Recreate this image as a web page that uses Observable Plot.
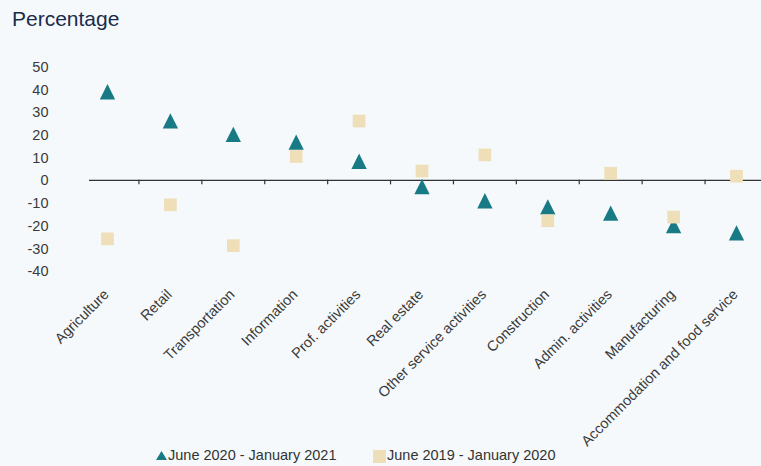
<!DOCTYPE html>
<html>
<head>
<meta charset="utf-8">
<script src="https://cdn.jsdelivr.net/npm/d3@7"></script>
<script src="https://cdn.jsdelivr.net/npm/@observablehq/plot@0.6"></script>
<style>
  html, body { margin: 0; padding: 0; background: #f5f9fb; }
  body { width: 761px; height: 466px; overflow: hidden; font-family: "Liberation Sans", Arial, sans-serif; }
  #title { box-sizing: border-box; height: 40px; padding: 8px 0 0 12px; font-size: 21px; line-height: 21px; color: #1b2b4b; }
  #chart svg { display: block; overflow: visible; }
  #legend { height: 21px; line-height: 21px; font-size: 14.5px; color: #333; position: relative; }
  #legend .item { position: absolute; top: 0; white-space: nowrap; }
  #legend svg { vertical-align: middle; position: relative; margin-right: 1px; }
</style>
</head>
<body>
<div id="title">Percentage</div>
<div id="chart"></div>
<div id="legend"></div>
<script>
const categories = ["Agriculture", "Retail", "Transportation", "Information", "Prof. activities", "Real estate", "Other service activities", "Construction", "Admin. activities", "Manufacturing", "Accommodation and food service"];
const recentValues = [39, 26.2, 20.2, 16.8, 8.4, -2.8, -9.0, -11.7, -14.5, -20.0, -23.2];
const priorValues = [-25.8, -10.8, -28.8, 10.5, 26.1, 4.1, 11.2, -17.8, 3.1, -16.2, 1.8];
const yTicks = [50, 40, 30, 20, 10, 0, -10, -20, -30, -40];
const seriesNames = ["June 2020 - January 2021", "June 2019 - January 2020"];

const recent = categories.map((c, i) => ({category: c, value: recentValues[i]}));
const prior = categories.map((c, i) => ({category: c, value: priorValues[i]}));

const teal = "#187a84";
const sand = "#efdfb9";
const ink = "#3a3a3a";

const triangle = {
  draw(context, size) {
    const s = Math.sqrt(size);
    context.moveTo(0, -s / 2);
    context.lineTo(s / 2, s / 2);
    context.lineTo(-s / 2, s / 2);
    context.closePath();
  }
};

const width = 761, height = 405;
const marginLeft = 107, marginRight = 25;
const step = (width - marginLeft - marginRight) / (categories.length - 1);

const chart = Plot.plot({
  width, height,
  marginLeft, marginRight,
  marginTop: 26.3,
  marginBottom: height - 230.6,
  style: {background: "transparent", fontFamily: "'Liberation Sans', Arial, sans-serif", fontSize: "14.5px", color: ink},
  x: {type: "point", domain: categories, padding: 0, round: false, axis: null},
  y: {domain: [-40, 50], axis: null},
  marks: [
    Plot.axisY({ticks: yTicks, tickSize: 0, tickPadding: 59, tickFormat: d => String(d), label: null, fill: ink, fontSize: 14.5, dy: 0.5}),
    Plot.ruleY([0], {stroke: "#333", strokeWidth: 1.2, insetLeft: -18, insetRight: -25}),
    Plot.ruleX(categories.slice(1), {x: d => d, y1: 0, y2: -2, dx: -step / 2, stroke: "#333", strokeWidth: 1.2}),
    Plot.text(categories, {x: d => d, text: d => d, frameAnchor: "bottom", rotate: -45, textAnchor: "end", lineAnchor: "middle", dx: -1, dy: 21, fill: ink, fontSize: 14.5}),
    Plot.dot(recent, {x: "category", y: "value", symbol: triangle, r: 8.63, fill: teal, stroke: "none"}),
    Plot.dot(prior, {x: "category", y: "value", symbol: "square", r: 7.17, fill: sand, stroke: "none"})
  ]
});
document.getElementById("chart").appendChild(chart);

const legend = document.getElementById("legend");
const items = [
  {name: seriesNames[0], left: 156, icon: `<svg width="11" height="9" style="top:-1px"><path d="M5.5,0L11,9L0,9Z" fill="${teal}"/></svg>`},
  {name: seriesNames[1], left: 373, icon: `<svg width="13" height="13" style="top:0px"><rect width="13" height="13" fill="${sand}"/></svg>`}
];
for (const it of items) {
  const span = document.createElement("span");
  span.className = "item";
  span.style.left = it.left + "px";
  span.innerHTML = it.icon + it.name;
  legend.appendChild(span);
}
</script>
</body>
</html>
